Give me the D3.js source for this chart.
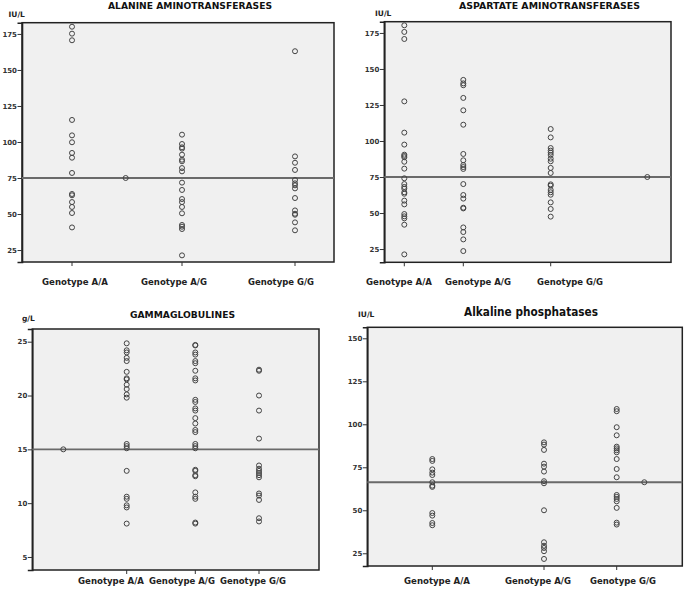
<!DOCTYPE html>
<html><head><meta charset="utf-8">
<script src="https://cdn.jsdelivr.net/npm/d3@7"></script>
<style>
html,body{margin:0;padding:0;background:#fff;}
svg{display:block;font-family:"DejaVu Sans",Verdana,sans-serif;}
</style></head>
<body><svg id="c" width="685" height="589"></svg>
<script>
// ---------- DATA ----------
const categories = ["Genotype A/A", "Genotype A/G", "Genotype G/G"];

const altTitle = "ALANINE AMINOTRANSFERASES";
const altUnit = "IU/L";
const altTicks = [25, 50, 75, 100, 125, 150, 175];
const altRef = 75;
const altAA = [180, 175.2, 170.6, 115.3, 104.6, 99.8, 92.4, 89.1, 78.5, 63.9, 63.0, 58.3, 54.9, 50.7, 40.7];
const altAG = [105.1, 98.6, 96.3, 95.4, 91.2, 87.7, 86.6, 81.9, 79.6, 71.8, 66.7, 60.4, 58.3, 54.9, 50.5, 42.4, 41.2, 39.6, 21.3];
const altGG = [163, 90.0, 85.6, 80.6, 73.6, 71.3, 69.9, 67.8, 61.1, 52.5, 50.2, 49.5, 44.2, 38.7];

const astTitle = "ASPARTATE AMINOTRANSFERASES";
const astUnit = "IU/L";
const astTicks = [25, 50, 75, 100, 125, 150, 175];
const astRef = 75;
const astAA = [180.3, 175.7, 170.8, 127.5, 105.8, 97.5, 90.5, 89.6, 88.7, 85.6, 80.8, 74.1, 70.1, 68.1, 66.9, 64.4, 63.4, 58.6, 56.0, 49.3, 47.7, 46.3, 41.9, 21.3];
const astAG = [142.4, 140.0, 138.7, 129.9, 121.3, 111.3, 91.0, 86.6, 83.3, 81.9, 80.6, 70.1, 62.5, 60.0, 53.7, 53.2, 40.0, 36.8, 31.7, 23.6];
const astGG = [108.3, 102.5, 95.1, 93.3, 91.9, 90.3, 87.7, 85.9, 81.3, 77.8, 69.9, 69.0, 66.0, 64.4, 62.7, 57.4, 52.8, 47.5];

const gamTitle = "GAMMAGLOBULINES";
const gamUnit = "g/L";
const gamTicks = [5, 10, 15, 20, 25];
const gamRef = 15;
const gamAA = [24.85, 24.2, 24.0, 23.5, 23.2, 22.2, 21.6, 21.5, 21.0, 20.6, 20.1, 19.8, 15.5, 15.3, 15.1, 13.0, 10.6, 10.4, 9.8, 9.6, 8.1];
const gamAG = [24.7, 24.65, 24.0, 23.8, 23.2, 23.0, 22.3, 21.6, 21.4, 19.6, 19.4, 18.8, 18.6, 17.9, 17.4, 16.8, 16.6, 15.5, 15.3, 15.1, 13.1, 13.0, 12.6, 12.5, 11.0, 10.6, 10.4, 8.2, 8.1];
const gamGG = [22.4, 22.3, 20.0, 18.6, 16.0, 13.5, 13.2, 13.0, 12.8, 12.6, 12.4, 10.9, 10.7, 10.3, 8.6, 8.3];

const alpTitle = "Alkaline phosphatases";
const alpUnit = "IU/L";
const alpTicks = [25, 50, 75, 100, 125, 150];
const alpRef = 66.3;
const alpAA = [79.8, 78.7, 73.8, 71.9, 70.5, 66.3, 64.3, 63.6, 48.4, 46.9, 42.6, 41.3];
const alpAG = [89.5, 88.2, 85.1, 77.1, 75.4, 72.5, 66.9, 65.7, 50.0, 31.4, 29.4, 28.1, 26.2, 21.7];
const alpGG = [108.9, 107.6, 98.3, 93.6, 87.0, 86.0, 84.9, 83.7, 79.8, 74.0, 69.2, 58.9, 57.8, 56.6, 55.2, 51.4, 42.8, 41.7];

// ---------- LAYOUT ----------
const panels = [
  {title: altTitle, unit: altUnit, ticks: altTicks, ref: altRef, series: [altAA, altAG, altGG],
   box: [22, 334, 22.7, 262], yDom: [16.7, 182.8],
   catX: [72, 182, 295], extraX: 125.7, labelX: [75, 174, 281], labelY: 285,
   titleX: 190, titleY: 9, titleSize: 8.5, titleW: 164, unitX: 8.5, unitY: 16.5},
  {title: astTitle, unit: astUnit, ticks: astTicks, ref: astRef, series: [astAA, astAG, astGG],
   box: [384.3, 671, 21.7, 262.3], yDom: [15.8, 182.8],
   catX: [404.3, 463.3, 550.7], extraX: 647.3, labelX: [399, 478, 570], labelY: 285,
   titleX: 549.5, titleY: 8.5, titleSize: 8.5, titleW: 181, unitX: 375, unitY: 15.5},
  {title: gamTitle, unit: gamUnit, ticks: gamTicks, ref: gamRef, series: [gamAA, gamAG, gamGG],
   box: [32.3, 319, 329, 570], yDom: [3.79, 26.18],
   catX: [126.7, 195.3, 259], extraX: 63.3, labelX: [111, 182, 253], labelY: 584,
   titleX: 182.5, titleY: 318, titleSize: 8.5, titleW: 105, unitX: 22, unitY: 321},
  {title: alpTitle, unit: alpUnit, ticks: alpTicks, ref: alpRef, series: [alpAA, alpAG, alpGG],
   box: [367.3, 682.3, 327.3, 566], yDom: [17.6, 156.4],
   catX: [432.3, 544, 616.7], extraX: 644.3, labelX: [437, 538, 623], labelY: 584,
   titleX: 531, titleY: 316, titleSize: 12, titleW: 134, unitX: 358, unitY: 317}
];

const svg = d3.select("#c");

panels.forEach(p => {
  const [L, R, T, B] = p.box;
  const g = svg.append("g");
  const y = d3.scaleLinear().domain(p.yDom).range([B, T]);
  const x = d3.scaleOrdinal().domain(categories.concat(["extra"])).range(p.catX.concat([p.extraX]));

  g.append("rect").attr("x", L).attr("y", T).attr("width", R - L).attr("height", B - T)
    .attr("fill", "#f0f0f0").attr("stroke", "#222").attr("stroke-width", 1.5);

  // y axis
  const ya = g.append("g").attr("transform", `translate(${L},0)`)
    .call(d3.axisLeft(y).tickValues(p.ticks).tickSize(4.5).tickPadding(0.5).tickFormat(d3.format("d")));
  ya.select(".domain").attr("stroke", "#222").attr("stroke-width", 1.6);
  ya.selectAll(".tick line").attr("stroke", "#333");
  ya.selectAll(".tick text").attr("font-size", 7).attr("font-weight", "bold").attr("fill", "#333")
    .attr("font-family", "DejaVu Sans, Verdana, sans-serif");

  // x axis ticks at categories
  const xa = g.append("g").attr("transform", `translate(0,${B})`)
    .call(d3.axisBottom(d3.scalePoint().domain(categories).range([p.catX[0], p.catX[2]]))
      .tickSize(4).tickFormat(""));
  xa.select(".domain").remove();
  xa.selectAll(".tick").attr("transform", d => `translate(${x(d)},0)`);
  xa.selectAll(".tick line").attr("stroke", "#333");

  // category labels
  g.selectAll("text.cat").data(categories).enter().append("text").attr("class", "cat")
    .attr("x", (d, i) => p.labelX[i]).attr("y", p.labelY).attr("text-anchor", "middle")
    .attr("font-size", 9).attr("font-weight", "bold").attr("fill", "#222")
    .attr("textLength", 66).attr("lengthAdjust", "spacingAndGlyphs").text(d => d);

  // reference line
  g.append("line").attr("x1", L).attr("x2", R).attr("y1", y(p.ref)).attr("y2", y(p.ref))
    .attr("stroke", "#6a6a6a").attr("stroke-width", 1.8);

  // points
  const pts = [];
  p.series.forEach((arr, i) => arr.forEach(v => pts.push({c: categories[i], v})));
  pts.push({c: "extra", v: p.ref});
  g.selectAll("circle").data(pts).enter().append("circle")
    .attr("cx", d => x(d.c)).attr("cy", d => y(d.v)).attr("r", 2.5)
    .attr("fill", "none").attr("stroke", "#444").attr("stroke-width", 1);

  // title & unit
  g.append("text").attr("x", p.titleX).attr("y", p.titleY).attr("text-anchor", "middle")
    .attr("font-size", p.titleSize).attr("font-weight", "bold").attr("fill", "#111")
    .attr("textLength", p.titleW).attr("lengthAdjust", "spacingAndGlyphs").text(p.title);
  g.append("text").attr("x", p.unitX).attr("y", p.unitY)
    .attr("font-size", 7.5).attr("font-weight", "bold").attr("fill", "#222").text(p.unit);
});
</script></body></html>
